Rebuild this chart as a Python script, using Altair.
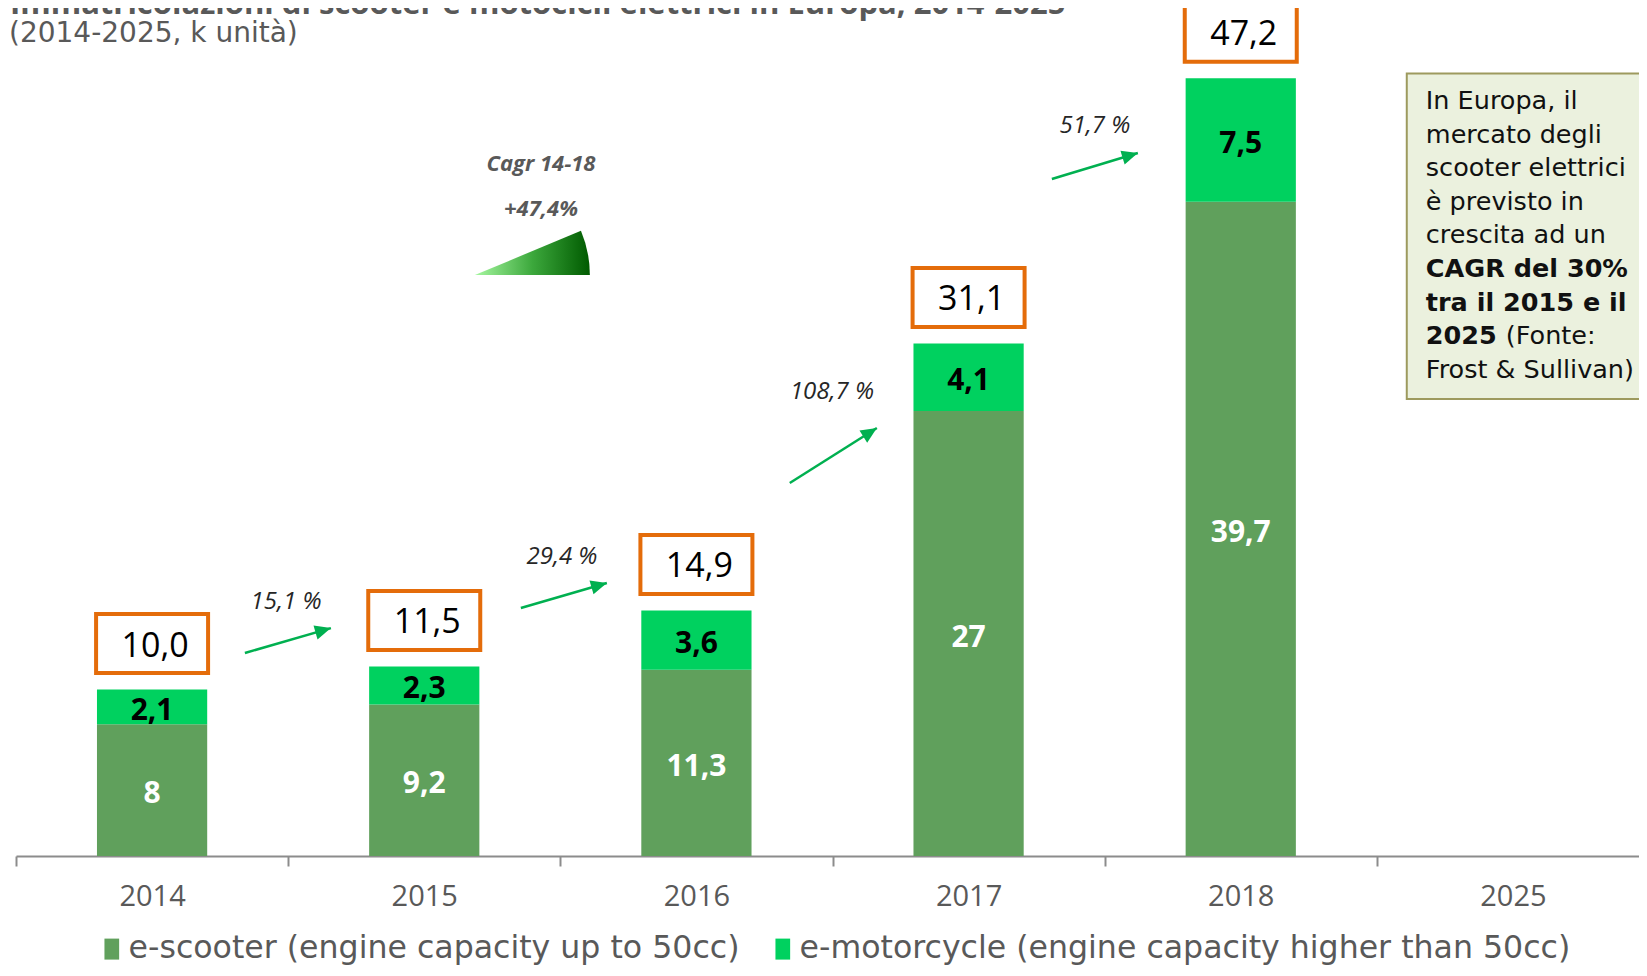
import math
import altair as alt
import pandas as pd

FONT = "Open Sans"
TFONT = "DejaVu Sans"

# ---------------- data ----------------
years = ["2014", "2015", "2016", "2017", "2018", "2025"]
escooter = [8.0, 9.2, 11.3, 27.0, 39.7]
emoto = [2.1, 2.3, 3.6, 4.1, 7.5]
escooter_labels = ["8", "9,2", "11,3", "27", "39,7"]
emoto_labels = ["2,1", "2,3", "3,6", "4,1", "7,5"]
total_labels = ["10,0", "11,5", "14,9", "31,1", "47,2"]
growth_labels = ["15,1 %", "29,4 %", "108,7 %", "51,7 %"]
series_names = ["e-scooter (engine capacity up to 50cc)",
                "e-motorcycle (engine capacity higher than 50cc)"]
series_colors = ["#60A05C", "#00D15F"]
label_colors = ["white", "black"]

title_text = "Immatricolazioni di scooter e motocicli elettrici in Europa, 2014-2025"
subtitle_text = "(2014-2025, k unità)"
cagr_title = "Cagr 14-18"
cagr_value = "+47,4%"

# annotation anchors: x in category units from the left edge, y in k units
arrow_x = [0.841, 1.855, 2.843, 3.806]
arrow_x2 = [1.157, 2.171, 3.163, 4.122]
arrow_y = [12.32, 15.05, 22.63, 41.08]
arrow_y2 = [13.83, 16.57, 25.97, 42.66]
growth_x = [0.992, 2.006, 2.998, 3.964]
growth_y = [15.41, 18.14, 28.16, 44.30]
cagr_x = [1.929, 1.929]
cagr_y = [42.0, 39.26]
wedge_x = [1.686]
wedge_y = [35.25]
wedge_deg = 22.7

note_box_x = [5.110]
note_box_x2 = [6.10]
note_box_y = [27.73]
note_box_y2 = [47.48]
note_lines = ["In Europa, il", "mercato degli", "scooter elettrici", "è previsto in",
              "crescita ad un", "CAGR del 30%", "tra il 2015 e il", "2025", "(Fonte:",
              "Frost & Sullivan)"]
note_bold = [False, False, False, False, False, True, True, True, False, False]
note_row = [0, 1, 2, 3, 4, 5, 6, 7, 7, 8]
note_x = [5.180, 5.180, 5.180, 5.180, 5.180, 5.180, 5.180, 5.180, 5.474, 5.180]
note_top_y = 45.82
note_step = 2.04

# ---------------- geometry ----------------
W = 1623
H = 824
RANGE = 1633
YMAX = 50
px_x = RANGE / 6
px_y = H / YMAX

# ---------------- tables ----------------
bar_rows = []
for i in range(len(escooter)):
    bar_rows.append(dict(year=years[i], series=series_names[0], y0=0, y1=escooter[i],
                         mid=escooter[i] / 2, lab=escooter_labels[i], tc=label_colors[0]))
    bar_rows.append(dict(year=years[i], series=series_names[1], y0=escooter[i],
                         y1=escooter[i] + emoto[i], mid=escooter[i] + emoto[i] / 2,
                         lab=emoto_labels[i], tc=label_colors[1]))
bars_df = pd.DataFrame(bar_rows)
tot_df = pd.DataFrame(dict(year=years[:5],
                           top=[a + b for a, b in zip(escooter, emoto)],
                           lab=total_labels))

arrows_df = pd.DataFrame(dict(ax=arrow_x, ax2=arrow_x2, ay=arrow_y, ay2=arrow_y2))
arrows_df["ang"] = [math.degrees(math.atan2((x2 - x1) * px_x, (y2 - y1) * px_y))
                    for x1, x2, y1, y2 in zip(arrow_x, arrow_x2, arrow_y, arrow_y2)]
growth_df = pd.DataFrame(dict(ax=growth_x, ay=growth_y, lab=growth_labels))
cagr_df = pd.DataFrame(dict(ax=cagr_x, ay=cagr_y, lab=[cagr_title, cagr_value]))
wedge_df = pd.DataFrame(dict(ax=wedge_x, ay=wedge_y))
box_df = pd.DataFrame(dict(ax=note_box_x, ax2=note_box_x2, ay=note_box_y, ay2=note_box_y2))
note_df = pd.DataFrame(dict(ax=note_x, lab=note_lines, bold=note_bold,
                            ay=[note_top_y - r * note_step for r in note_row]))
head_df = pd.DataFrame(dict(t=[title_text, subtitle_text], kind=["title", "subtitle"]))

# ---------------- encodings ----------------
yscale = alt.Scale(domain=[0, YMAX], nice=False, zero=True)
xband = alt.X("year:N", title=None,
              scale=alt.Scale(domain=years, range=[0, RANGE], paddingInner=0, paddingOuter=0),
              axis=alt.Axis(tickBand="extent", labelAngle=0, labelFontSize=29, labelFont=FONT,
                            labelColor="#595959", labelPadding=16, tickSize=10, tickWidth=2,
                            tickColor="#8C8C8C", domainColor="#8C8C8C", domainWidth=2,
                            grid=False))
xq = alt.X("ax:Q", scale=alt.Scale(domain=[0, 6], range=[0, RANGE], nice=False, zero=False),
           axis=None)
yq = alt.Y("ay:Q", scale=yscale, axis=None)

bars = alt.Chart(bars_df).mark_bar(width=alt.RelativeBandSize(0.405)).encode(
    x=xband,
    y=alt.Y("y0:Q", scale=yscale, axis=None),
    y2="y1:Q",
    color=alt.Color("series:N",
                    scale=alt.Scale(domain=series_names, range=series_colors),
                    legend=alt.Legend(orient="none", legendX=80, legendY=901,
                                      direction="horizontal", title=None,
                                      symbolType="M-0.7,-1H0.7V1H-0.7Z", symbolSize=441,
                                      symbolStrokeWidth=0, symbolOpacity=1,
                                      labelFontSize=31.6, labelFont=TFONT, labelColor="#595959",
                                      labelLimit=0, columnPadding=27, labelOffset=1)),
)

seg_text = alt.Chart(bars_df).mark_text(font=FONT, fontSize=30, fontWeight="bold",
                                        baseline="middle", dy=4).encode(
    x=xband,
    y=alt.Y("mid:Q", scale=yscale, axis=None),
    text="lab:N",
    color=alt.Color("tc:N", scale=None),
)

BOX = "M-1,-0.527H1V0.527H-1Z"
tot_box = alt.Chart(tot_df).mark_point(shape=BOX, size=112 * 112, filled=True, fill="white",
                                       stroke="#E46C0A", strokeWidth=4, opacity=1,
                                       yOffset=-46).encode(
    x=xband, y=alt.Y("top:Q", scale=yscale, axis=None))
tot_text = alt.Chart(tot_df).mark_text(font=FONT, fontSize=34, color="black",
                                       baseline="middle", dy=-43, dx=3).encode(
    x=xband, y=alt.Y("top:Q", scale=yscale, axis=None), text="lab:N")

band_layer = alt.layer(bars, seg_text, tot_box, tot_text)

# annotations
GREEN = "#00B050"
arrow_lines = alt.Chart(arrows_df).mark_rule(color=GREEN, strokeWidth=2.5).encode(
    x=xq, x2="ax2:Q", y=yq, y2="ay2:Q")
HEAD = "M0,0L0.45,1L-0.45,1Z"
arrow_heads = alt.Chart(arrows_df).mark_point(shape=HEAD, size=1024, filled=True, fill=GREEN,
                                              strokeWidth=0, opacity=1).encode(
    x=alt.X("ax2:Q", scale=alt.Scale(domain=[0, 6], range=[0, RANGE], nice=False, zero=False),
            axis=None),
    y=alt.Y("ay2:Q", scale=yscale, axis=None),
    angle=alt.Angle("ang:Q", scale=None))
growth_text = alt.Chart(growth_df).mark_text(font=FONT, fontSize=24, fontStyle="italic",
                                             color="#262626", baseline="middle").encode(
    x=xq, y=yq, text="lab:N")
cagr_text = alt.Chart(cagr_df).mark_text(font=FONT, fontSize=22, fontStyle="italic",
                                         fontWeight="bold", color="#595959",
                                         baseline="middle").encode(
    x=xq, y=yq, text="lab:N")
wedge = alt.Chart(wedge_df).mark_arc(
    radius=115, theta=math.pi / 2 - math.radians(wedge_deg), theta2=math.pi / 2,
    fill=alt.Gradient(gradient="linear",
                      stops=[alt.GradientStop(color="#A6F7A0", offset=0),
                             alt.GradientStop(color="#3CA83C", offset=0.5),
                             alt.GradientStop(color="#005A00", offset=1)],
                      x1=0, x2=1, y1=0, y2=0),
    strokeWidth=0).encode(x=xq, y=yq)
note_box = alt.Chart(box_df).mark_rect(fill="#EBF1DE", stroke="#9D9A5E",
                                       strokeWidth=2).encode(
    x=xq, x2="ax2:Q", y=yq, y2="ay2:Q")
note_norm = alt.Chart(note_df).transform_filter("!datum.bold").mark_text(
    font=TFONT, fontSize=25.5, color="#111111", align="left", baseline="middle").encode(
    x=xq, y=yq, text="lab:N")
note_b = alt.Chart(note_df).transform_filter("datum.bold").mark_text(
    font=TFONT, fontSize=25.5, fontWeight="bold", color="#111111", align="left",
    baseline="middle").encode(x=xq, y=yq, text="lab:N")

title_mark = alt.Chart(head_df).transform_filter("datum.kind == 'title'").mark_text(
    font=FONT, fontSize=31, fontWeight="bold", color="#595959", align="left",
    baseline="alphabetic").encode(x=alt.value(-6), y=alt.value(-18), text="t:N")
subtitle_mark = alt.Chart(head_df).transform_filter("datum.kind == 'subtitle'").mark_text(
    font=TFONT, fontSize=28, color="#595959", align="left", baseline="middle").encode(
    x=alt.value(-7), y=alt.value(2), text="t:N")

annot_layer = alt.layer(arrow_lines, arrow_heads, growth_text, cagr_text, wedge, note_box,
                        note_norm, note_b, title_mark, subtitle_mark)

chart = alt.layer(band_layer, annot_layer).resolve_scale(
    x="independent", color="independent"
).properties(
    width=W, height=H,
    padding={"left": 8, "right": 0, "top": 24, "bottom": 112},
    autosize=alt.AutoSizeParams(type="none"),
).configure(font=FONT, view=alt.ViewConfig(stroke=None))

chart.save("out.html", embed_options={"renderer": "svg", "actions": False})
